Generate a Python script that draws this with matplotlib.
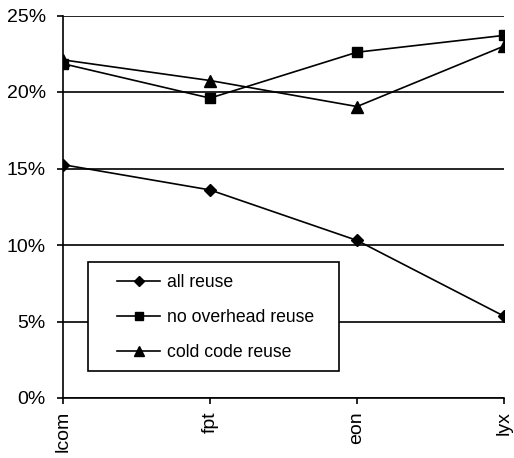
import matplotlib
matplotlib.use("Agg")
import matplotlib.pyplot as plt
from matplotlib.ticker import FuncFormatter
from matplotlib.patches import Rectangle

categories = ["lcom", "fpt", "eon", "lyx"]
all_reuse = [15.25, 13.6, 10.3, 5.35]
no_overhead_reuse = [21.85, 19.6, 22.6, 23.7]
cold_code_reuse = [22.1, 20.75, 19.05, 23.0]
yticks = [0, 5, 10, 15, 20, 25]

plt.rcParams['font.family'] = ['Liberation Sans', 'DejaVu Sans']

W, H = 514, 458
fig = plt.figure(figsize=(W/100, H/100), dpi=100)
ax = fig.add_axes([63/W, 1-398/H, (504-63)/W, (398-15.5)/H])

x = list(range(len(categories)))
ax.plot(x, all_reuse, color='black', marker='D', markersize=6, lw=1.2, label='all reuse')
ax.plot(x, no_overhead_reuse, color='black', marker='s', markersize=7, lw=1.2, label='no overhead reuse')
ax.plot(x, cold_code_reuse, color='black', marker='^', markersize=8, lw=1.2, label='cold code reuse')

ax.set_xlim(0, 3)
ax.set_ylim(0, 25)
ax.set_yticks(yticks)
ax.yaxis.set_major_formatter(FuncFormatter(lambda v, p: f"{int(v)}%"))
ax.set_xticks(x)
ax.set_xticklabels(categories, rotation=90, fontsize=14)
ax.tick_params(axis='y', labelsize=14, length=4.5, width=1.2, direction='out', pad=8)
ax.tick_params(axis='x', length=4, width=1.2, direction='out', pad=5.5)
ax.grid(axis='y', color='black', lw=1.2)
ax.set_axisbelow(True)
for s in ['top', 'right']:
    ax.spines[s].set_visible(False)
for s in ['left', 'bottom']:
    ax.spines[s].set_linewidth(1.2)

# legend frame
rect = Rectangle((88/W, 1-371/H), (339-88)/W, (371-262)/H, transform=fig.transFigure,
                 facecolor='white', edgecolor='black', lw=1.2, zorder=4)
fig.add_artist(rect)

leg = fig.legend(handles=ax.get_lines(), loc='center left', bbox_to_anchor=(117/W, 1-317.5/H),
                 fontsize=12.7, frameon=False, borderpad=0, borderaxespad=0,
                 labelspacing=1.03, handlelength=2.45, handletextpad=0.4, markerscale=0.85)
leg.set_zorder(5)

fig.savefig("out.png", dpi=100)
